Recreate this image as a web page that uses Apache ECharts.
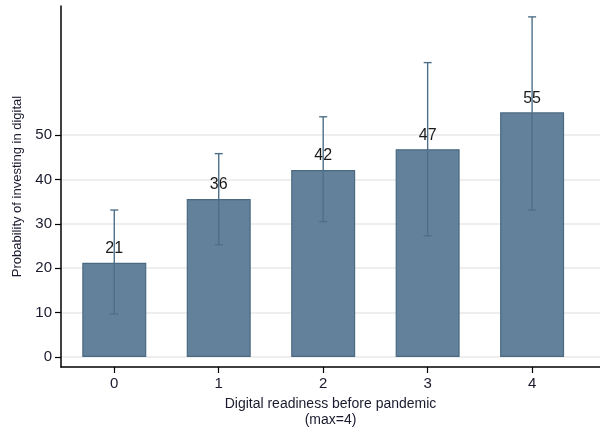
<!DOCTYPE html>
<html>
<head>
<meta charset="utf-8">
<script src="https://cdn.jsdelivr.net/npm/echarts@6/dist/echarts.min.js"></script>
<style>html,body{margin:0;padding:0;background:#fff}#c{width:600px;height:427px}</style>
</head>
<body>
<div id="c"></div>
<script>
var categories = [0, 1, 2, 3, 4];
var means = [21.2, 35.6, 42.1, 46.8, 55.1];
var lower = [9.7, 25.3, 30.5, 27.3, 33.1];
var upper = [33.1, 45.8, 54.1, 66.3, 76.6];
var yTicks = [0, 10, 20, 30, 40, 50];

var FONT = 'Liberation Sans, Arial, sans-serif';
var barData = categories.map(function (c, i) { return [c, means[i]]; });
var errData = categories.map(function (c, i) { return [c, lower[i], upper[i]]; });

var chart = echarts.init(document.getElementById('c'));
chart.setOption({
  animation: false,
  backgroundColor: '#fff',
  grid: { left: 61, right: 0, top: 6, bottom: 60, outerBoundsMode: 'none', containLabel: false },
  xAxis: {
    type: 'value', min: -0.51, max: 4.65,
    name: 'Digital readiness before pandemic\n(max=4)',
    nameLocation: 'middle', nameGap: 23,
    nameTextStyle: { fontFamily: FONT, fontSize: 14, color: '#1a1a2e', lineHeight: 16 },
    axisLine: { show: true, onZero: false, lineStyle: { color: '#000', width: 1.5 } },
    axisTick: { show: true, length: 6, customValues: categories, lineStyle: { color: '#000', width: 1.2 } },
    axisLabel: { customValues: categories, margin: 9, fontFamily: FONT, fontSize: 15, color: '#1a1a2e' },
    splitLine: { show: false }
  },
  yAxis: {
    type: 'value', min: -2.25, max: 79.05,
    name: 'Probability of investing in digital',
    nameLocation: 'middle', nameGap: 35,
    nameTextStyle: { fontFamily: FONT, fontSize: 13, color: '#1a1a2e' },
    axisLine: { show: true, onZero: false, lineStyle: { color: '#000', width: 1.5 } },
    axisTick: { show: true, length: 6, customValues: yTicks, lineStyle: { color: '#000', width: 1.2 } },
    axisLabel: { customValues: yTicks, margin: 9, fontFamily: FONT, fontSize: 15, color: '#1a1a2e' },
    splitLine: { show: true, customValues: yTicks, lineStyle: { color: '#e8e8e8', width: 1.5 } }
  },
  series: [
    {
      type: 'bar',
      data: barData,
      barWidth: 64,
      itemStyle: { color: '#63819a', borderColor: '#4b6a82', borderWidth: 1.2 },
      label: {
        show: true, position: 'top', distance: 6,
        fontFamily: FONT, fontSize: 16, color: '#1a1a1a',
        formatter: function (p) { return Math.round(p.value[1]); }
      },
      z: 2
    },
    {
      type: 'custom',
      data: errData,
      z: 5,
      renderItem: function (params, api) {
        var x = api.value(0);
        var lo = api.coord([x, api.value(1)]);
        var hi = api.coord([x, api.value(2)]);
        var hw = 4;
        var st = { stroke: '#4f6f88', lineWidth: 1.4 };
        return {
          type: 'group',
          children: [
            { type: 'line', shape: { x1: lo[0], y1: lo[1], x2: hi[0], y2: hi[1] }, style: st },
            { type: 'line', shape: { x1: lo[0] - hw, y1: lo[1], x2: lo[0] + hw, y2: lo[1] }, style: st },
            { type: 'line', shape: { x1: hi[0] - hw, y1: hi[1], x2: hi[0] + hw, y2: hi[1] }, style: st }
          ]
        };
      }
    }
  ]
});
</script>
</body>
</html>
